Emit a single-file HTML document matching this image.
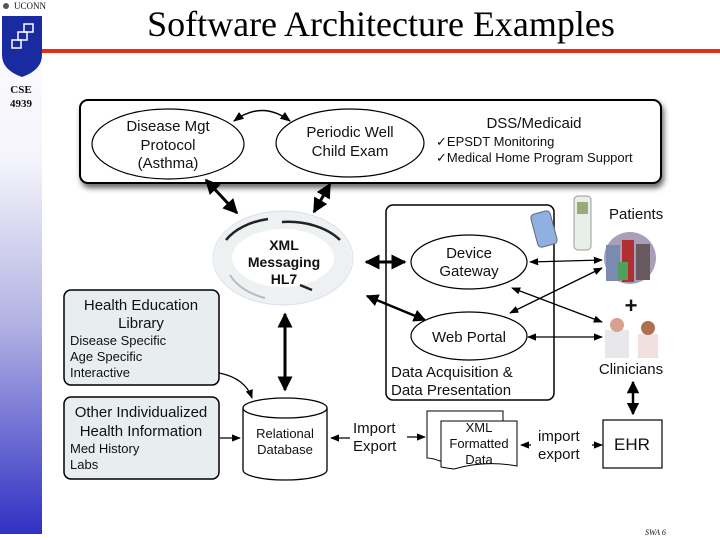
<!DOCTYPE html>
<html><head><meta charset="utf-8"><style>
html,body{margin:0;padding:0;width:720px;height:540px;overflow:hidden;background:#fff}
svg{display:block}
text{font-family:"Liberation Sans",Arial,sans-serif;fill:#111}
</style></head><body>
<svg width="720" height="540" viewBox="0 0 720 540" xmlns="http://www.w3.org/2000/svg">
<defs>
<linearGradient id="side" x1="0" y1="0" x2="0" y2="1">
<stop offset="0" stop-color="#ffffff"/><stop offset="0.3" stop-color="#f4f4fb"/><stop offset="0.6" stop-color="#b4b4e4"/><stop offset="1" stop-color="#3030c4"/>
</linearGradient>
<filter id="sh" x="-5%" y="-10%" width="115%" height="130%"><feDropShadow dx="2" dy="4" stdDeviation="3" flood-color="#000" flood-opacity="0.6"/></filter>
<marker id="ah" viewBox="0 0 10 10" refX="9" refY="5" markerWidth="5" markerHeight="5" orient="auto-start-reverse"><path d="M0,0L10,5L0,10z" fill="#000"/></marker>
<marker id="ahs" viewBox="0 0 10 10" refX="9" refY="5" markerWidth="7" markerHeight="7" orient="auto-start-reverse"><path d="M0,1L10,5L0,9z" fill="#000"/></marker>
</defs>
<rect x="0" y="0" width="42" height="534" fill="url(#side)"/>
<rect x="42" y="49" width="678" height="4" fill="#e03018"/>
<text x="14" y="9" font-size="9" style="font-family:'Liberation Serif',serif">UCONN</text>
<circle cx="6" cy="6" r="3" fill="#555"/>
<path d="M2,16 H42 V55 Q42,70 22,77 Q2,70 2,55Z" fill="#1a2aa0"/>
<rect x="12" y="40" width="9" height="8" fill="none" stroke="#fff" stroke-width="1.5"/>
<rect x="18" y="32" width="9" height="8" fill="none" stroke="#fff" stroke-width="1.5"/>
<rect x="24" y="24" width="9" height="8" fill="none" stroke="#fff" stroke-width="1.5"/>
<text x="21" y="93" text-anchor="middle" font-size="11" font-weight="bold" style="font-family:'Liberation Serif',serif">CSE</text>
<text x="21" y="107" text-anchor="middle" font-size="11" font-weight="bold" style="font-family:'Liberation Serif',serif">4939</text>
<text x="381" y="36" text-anchor="middle" font-size="36" style="font-family:'Liberation Serif',serif;fill:#000">Software Architecture Examples</text>

<rect x="80" y="100" width="581" height="83" rx="8" fill="#fff" stroke="#000" stroke-width="2" filter="url(#sh)"/>
<ellipse cx="168" cy="144" rx="76" ry="35" fill="none" stroke="#000" stroke-width="1.2"/>
<text x="168" y="131" text-anchor="middle" font-size="15">Disease Mgt</text>
<text x="168" y="150" text-anchor="middle" font-size="15">Protocol</text>
<text x="168" y="168" text-anchor="middle" font-size="15">(Asthma)</text>
<ellipse cx="350" cy="143" rx="74" ry="34" fill="none" stroke="#000" stroke-width="1.2"/>
<text x="350" y="137" text-anchor="middle" font-size="15">Periodic Well</text>
<text x="350" y="156" text-anchor="middle" font-size="15">Child Exam</text>
<text x="534" y="128" text-anchor="middle" font-size="15">DSS/Medicaid</text>
<text x="436" y="146" font-size="13">✓EPSDT Monitoring</text>
<text x="436" y="162" font-size="13">✓Medical Home Program Support</text>
<path d="M234,121 Q262,100 290,121" fill="none" stroke="#000" stroke-width="1.5" marker-start="url(#ahs)" marker-end="url(#ahs)"/>

<line x1="206" y1="180" x2="237" y2="213" stroke="#000" stroke-width="3" marker-start="url(#ah)" marker-end="url(#ah)"/>
<line x1="330" y1="184" x2="314" y2="212" stroke="#000" stroke-width="3" marker-start="url(#ah)" marker-end="url(#ah)"/>

<g fill="none" stroke-linecap="butt">
<ellipse cx="283" cy="258" rx="60" ry="38" stroke="#eef1f1" stroke-width="18"/>
<ellipse cx="283" cy="258" rx="70" ry="47" stroke="#dde" stroke-width="1"/>
<path d="M226,240 A62,40 0 0 1 268,219" stroke="#222" stroke-width="2.5"/>
<path d="M282,222 A62,40 0 0 1 340,240" stroke="#222" stroke-width="2.5"/>
<path d="M300,285 L312,290" stroke="#222" stroke-width="2.5"/>
<path d="M230,275 A62,40 0 0 0 265,298" stroke="#bbb" stroke-width="2"/>
</g>
<text x="284" y="250" text-anchor="middle" font-size="14" font-weight="bold">XML</text>
<text x="284" y="267" text-anchor="middle" font-size="14" font-weight="bold">Messaging</text>
<text x="284" y="284" text-anchor="middle" font-size="14" font-weight="bold">HL7</text>

<rect x="386" y="205" width="168" height="195" rx="7" fill="none" stroke="#000" stroke-width="1.5"/>
<ellipse cx="469" cy="262" rx="58" ry="27" fill="#fff" stroke="#000" stroke-width="1.2"/>
<text x="469" y="258" text-anchor="middle" font-size="15">Device</text>
<text x="469" y="276" text-anchor="middle" font-size="15">Gateway</text>
<ellipse cx="469" cy="336" rx="58" ry="24" fill="#fff" stroke="#000" stroke-width="1.2"/>
<text x="469" y="342" text-anchor="middle" font-size="15">Web Portal</text>
<text x="391" y="377" font-size="15">Data Acquisition &amp;</text>
<text x="391" y="395" font-size="15">Data Presentation</text>
<line x1="366" y1="262" x2="405" y2="262" stroke="#000" stroke-width="3" marker-start="url(#ah)" marker-end="url(#ah)"/>
<line x1="367" y1="296" x2="425" y2="320" stroke="#000" stroke-width="2.5" marker-start="url(#ah)" marker-end="url(#ah)"/>

<g stroke="#000" stroke-width="1.3" fill="none">
<line x1="530" y1="262" x2="602" y2="260" marker-start="url(#ahs)" marker-end="url(#ahs)"/>
<line x1="512" y1="288" x2="602" y2="322" marker-start="url(#ahs)" marker-end="url(#ahs)"/>
<line x1="510" y1="313" x2="602" y2="268" marker-start="url(#ahs)" marker-end="url(#ahs)"/>
<line x1="528" y1="337" x2="602" y2="337" marker-start="url(#ahs)" marker-end="url(#ahs)"/>
</g>
<rect x="534" y="212" width="20" height="34" rx="4" fill="#8fb0e0" stroke="#667" transform="rotate(-15 544 229)"/>
<rect x="574" y="196" width="17" height="54" rx="4" fill="#e8eee8" stroke="#999"/>
<rect x="577" y="202" width="11" height="12" fill="#9a7"/>
<text x="609" y="219" font-size="15">Patients</text>
<g>
<ellipse cx="630" cy="258" rx="26" ry="26" fill="#a8a0b8"/>
<rect x="606" y="245" width="14" height="36" fill="#7a8ab0"/>
<rect x="622" y="240" width="12" height="42" fill="#b03030"/>
<rect x="636" y="244" width="14" height="36" fill="#6a5a60"/>
<rect x="618" y="262" width="10" height="18" fill="#50a060"/>
</g>
<text x="631" y="313" text-anchor="middle" font-size="22" font-weight="bold">+</text>
<rect x="605" y="330" width="24" height="28" fill="#e8e8ec"/>
<circle cx="617" cy="325" r="7" fill="#d8a090"/>
<rect x="638" y="334" width="20" height="24" fill="#f0e0e0"/>
<circle cx="648" cy="328" r="7" fill="#b07050"/>
<text x="631" y="374" text-anchor="middle" font-size="15">Clinicians</text>
<line x1="633" y1="382" x2="633" y2="414" stroke="#000" stroke-width="2.5" marker-start="url(#ah)" marker-end="url(#ah)"/>

<rect x="64" y="290" width="155" height="95" rx="7" fill="#e8eef0" stroke="#000" stroke-width="1.5"/>
<text x="141" y="310" text-anchor="middle" font-size="15">Health Education</text>
<text x="141" y="328" text-anchor="middle" font-size="15">Library</text>
<text x="70" y="345" font-size="13">Disease Specific</text>
<text x="70" y="361" font-size="13">Age Specific</text>
<text x="70" y="377" font-size="13">Interactive</text>
<rect x="64" y="397" width="155" height="82" rx="7" fill="#e8eef0" stroke="#000" stroke-width="1.5"/>
<text x="141" y="417" text-anchor="middle" font-size="15">Other Individualized</text>
<text x="141" y="436" text-anchor="middle" font-size="15">Health Information</text>
<text x="70" y="453" font-size="13">Med History</text>
<text x="70" y="469" font-size="13">Labs</text>

<path d="M243,408 V470 A42,10 0 0 0 327,470 V408" fill="#fff" stroke="#000" stroke-width="1.3"/>
<ellipse cx="285" cy="408" rx="42" ry="10" fill="#fff" stroke="#000" stroke-width="1.3"/>
<text x="285" y="438" text-anchor="middle" font-size="13">Relational</text>
<text x="285" y="454" text-anchor="middle" font-size="13">Database</text>
<line x1="285" y1="314" x2="285" y2="390" stroke="#000" stroke-width="3" marker-start="url(#ah)" marker-end="url(#ah)"/>
<path d="M219,373 Q245,378 252,398" fill="none" stroke="#000" stroke-width="1.3" marker-end="url(#ahs)"/>
<line x1="220" y1="438" x2="240" y2="438" stroke="#000" stroke-width="1.3" marker-end="url(#ahs)"/>
<line x1="350" y1="438" x2="331" y2="438" stroke="#000" stroke-width="1.3" marker-end="url(#ahs)"/>
<text x="353" y="433" font-size="15">Import</text>
<text x="353" y="451" font-size="15">Export</text>
<line x1="407" y1="437" x2="425" y2="437" stroke="#000" stroke-width="1.3" marker-end="url(#ahs)"/>
<path d="M427,411 H503 V456 Q470,450 440,461 Q432,458 427,458Z" fill="#fff" stroke="#000" stroke-width="1"/>
<path d="M441,421 H517 V466 Q484,460 454,469 Q446,468 441,467Z" fill="#fff" stroke="#000" stroke-width="1"/>
<text x="479" y="432" text-anchor="middle" font-size="13">XML</text>
<text x="479" y="448" text-anchor="middle" font-size="13">Formatted</text>
<text x="479" y="464" text-anchor="middle" font-size="13">Data</text>
<line x1="531" y1="445" x2="521" y2="445" stroke="#000" stroke-width="1.3" marker-end="url(#ahs)"/>
<text x="538" y="441" font-size="15">import</text>
<text x="538" y="459" font-size="15">export</text>
<line x1="592" y1="445" x2="602" y2="445" stroke="#000" stroke-width="1.3" marker-end="url(#ahs)"/>
<rect x="603" y="420" width="59" height="48" fill="#fff" stroke="#000" stroke-width="1.2"/>
<text x="632" y="450" text-anchor="middle" font-size="17">EHR</text>
<text x="645" y="535" font-size="8" font-style="italic" style="font-family:'Liberation Serif',serif">SWA 6</text>
</svg>
</body></html>
